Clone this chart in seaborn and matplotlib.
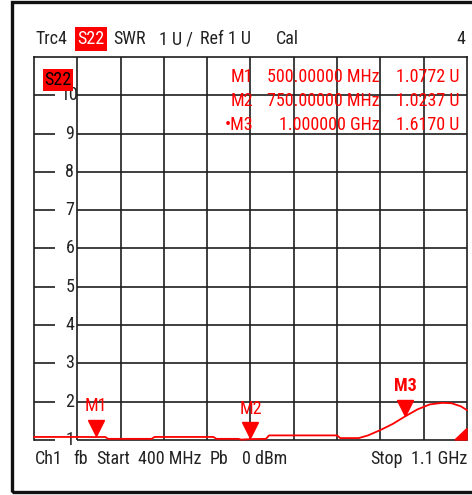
import numpy as np
import pandas as pd
import matplotlib
matplotlib.use("Agg")
import matplotlib.pyplot as plt
import matplotlib.transforms as mtransforms
from matplotlib.patches import Rectangle, Polygon
from matplotlib import font_manager
import seaborn as sns

# trace data: S22 SWR vs frequency (MHz)
freq = [400, 440, 480, 500, 515, 520, 590, 595, 690, 695, 730, 735, 750, 775, 780,
        890, 895, 925, 940, 960, 980, 1000, 1020, 1040, 1060, 1075, 1090, 1100]
swr = [1.08, 1.08, 1.08, 1.0772, 1.08, 1.03, 1.03, 1.08, 1.08, 1.03, 1.03, 1.01, 1.0237, 1.03, 1.12,
       1.12, 1.05, 1.05, 1.12, 1.26, 1.42, 1.617, 1.80, 1.93, 1.97, 1.96, 1.88, 1.78]

# markers
marker_names = ["M1", "M2", "M3"]
marker_freq = [500, 750, 1000]
marker_val = [1.0772, 1.0237, 1.6170]
marker_freq_text = ["500.00000 MHz", "750.00000 MHz", "1.000000 GHz"]
marker_val_text = ["1.0772 U", "1.0237 U", "1.6170 U"]

y_ticks = list(range(1, 11))
x_grid = list(range(470, 1100, 70))

sns.set_style("white")

# look for a narrow sans font (screen font of the analyzer is condensed)
def pick_font(weight="normal"):
    entries = font_manager.fontManager.ttflist
    order = ["Liberation Sans Narrow", "Roboto Condensed", "DejaVu Sans Condensed",
             "Noto Sans Condensed", "Open Sans Condensed"]
    for name in order:
        for f in entries:
            if f.name == name and f.style == "normal" and str(f.weight) in (weight, "400" if weight == "normal" else "700"):
                return font_manager.FontProperties(fname=f.fname)
    for f in entries:
        if f.stretch in ("condensed", "semi-condensed") and f.style == "normal" \
                and ("Sans" in f.name or "Roboto" in f.name) \
                and str(f.weight) in (weight, "400" if weight == "normal" else "700"):
            return font_manager.FontProperties(fname=f.fname)
    return None

fp_reg = pick_font("normal")
fp_bold = pick_font("bold")
plt.rcParams['font.family'] = ['Liberation Sans', 'DejaVu Sans']
narrow = fp_reg is not None
FS = 13 if narrow else 11

def fkw(bold=False):
    if narrow:
        p = (fp_bold if (bold and fp_bold is not None) else fp_reg).copy()
        p.set_size(FS)
        return {"fontproperties": p}
    return {"fontsize": FS, "fontweight": "bold" if bold else "normal"}

W, H = 472, 495
fig = plt.figure(figsize=(W / 100, H / 100), dpi=100)

def fx(x):
    return x / W

def fy(y):
    return 1 - y / H

grid_c = "#1e1e1e"
txt_c = "#222222"

# outer frame
fig.patches.append(Rectangle((fx(12), fy(492)), 1.2, fy(2) - fy(492), transform=fig.transFigure,
                             fill=False, edgecolor="#111111", lw=2.4, figure=fig))

ax = fig.add_axes([fx(34), fy(440), fx(467) - fx(34), fy(57) - fy(440)])
ax.set_xlim(400, 1100)
ax.set_ylim(1, 11)
ax.set_xticks([])
ax.set_yticks([])
for s in ["left", "top", "right"]:
    ax.spines[s].set_color(grid_c)
    ax.spines[s].set_linewidth(1.2)
ax.spines["bottom"].set_visible(False)

# grid
ax.vlines(x_grid, 1, 11, color=grid_c, lw=1.2, clip_on=False)
ax.hlines(y_ticks, 470, 1100, color=grid_c, lw=1.2, clip_on=False)
ax.hlines(y_ticks, 400, 434, color=grid_c, lw=1.2, clip_on=False)
for v in y_ticks:
    ax.text(458, v, str(v), ha="center", va="center", color=txt_c, **fkw())

# trace
df = pd.DataFrame({"freq": freq, "swr": swr})
sns.lineplot(data=df, x="freq", y="swr", color="red", lw=1.3, ax=ax, zorder=5, clip_on=False)
ax.set_xlabel("")
ax.set_ylabel("")

# marker triangles and labels
tri_tr = mtransforms.offset_copy(ax.transData, fig=fig, x=0, y=6.2, units="points")
for i, name in enumerate(marker_names):
    ax.plot(marker_freq[i], marker_val[i], marker="v", markersize=12, color="red",
            transform=tri_tr, zorder=6, clip_on=False)
    ax.annotate(name, (marker_freq[i], marker_val[i]), xytext=(0, 22), textcoords="offset points",
                ha="center", va="center", color="red", **fkw(bold=(name == "M3")))

# reference level indicator (bottom right)
ax.add_patch(Polygon([[1, 0], [1, 0.03], [0.972, 0]], closed=True, transform=ax.transAxes,
                     color="red", zorder=7, clip_on=False))

# in-plot trace label
ax.text(fx(58), fy(80), "S22", transform=fig.transFigure, ha="center", va="center",
        color="black", zorder=8, bbox=dict(boxstyle="square,pad=0.1", fc="red", ec="none"), **fkw())

# marker table
rows_y = [77, 101, 125]
for i, name in enumerate(marker_names):
    lbl = ("\u2022" + name) if i == 2 else name
    fig.text(fx(253), fy(rows_y[i]), lbl, ha="right", va="center", color="red", **fkw())
    fig.text(fx(380), fy(rows_y[i]), marker_freq_text[i], ha="right", va="center", color="red", **fkw())
    fig.text(fx(459), fy(rows_y[i]), marker_val_text[i], ha="right", va="center", color="red", **fkw())

# header
hy = fy(39)
fig.text(fx(35), hy, "Trc4", ha="left", va="center", color=txt_c, **fkw())
fig.text(fx(91), hy, "S22", ha="center", va="center", color="white",
         bbox=dict(boxstyle="square,pad=0.15", fc="red", ec="none"), **fkw())
fig.text(fx(113), hy, "SWR", ha="left", va="center", color=txt_c, **fkw())
fig.text(fx(159), hy, "1 U /", ha="left", va="center", color=txt_c, **fkw())
fig.text(fx(200), hy, "Ref 1 U", ha="left", va="center", color=txt_c, **fkw())
fig.text(fx(276), hy, "Cal", ha="left", va="center", color=txt_c, **fkw())
fig.text(fx(465), hy, "4", ha="right", va="center", color=txt_c, **fkw())

# footer
by = fy(459)
footer = [("Ch1", 35), ("fb", 73), ("Start", 96), ("400 MHz", 138), ("Pb", 210), ("0 dBm", 242),
          ("Stop", 370)]
for t, x in footer:
    fig.text(fx(x), by, t, ha="left", va="center", color=txt_c, **fkw())
fig.text(fx(467), by, "1.1 GHz", ha="right", va="center", color=txt_c, **fkw())

fig.savefig("out.png", dpi=100)
